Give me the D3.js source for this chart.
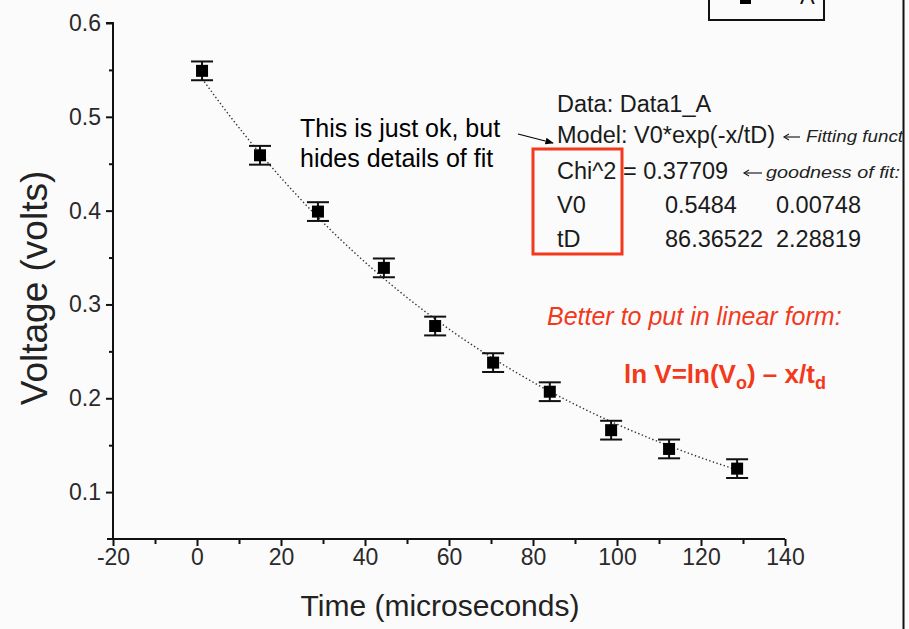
<!DOCTYPE html>
<html>
<head>
<meta charset="utf-8">
<script src="https://cdn.jsdelivr.net/npm/d3@7"></script>
<style>
  html, body { margin: 0; padding: 0; background: #fbfbfb; }
  svg { display: block; }
  text { font-family: "Liberation Sans", Arial, sans-serif; }
</style>
</head>
<body>
<svg id="chart" width="909" height="629"></svg>
<script>
// Measured decay: time (µs), voltage (V) and its uncertainty
const times    = [1.2, 15.0, 28.8, 44.5, 56.7, 70.5, 84.0, 98.6, 112.4, 128.6];
const voltages = [0.549, 0.459, 0.399, 0.339, 0.277, 0.238, 0.207, 0.166, 0.146, 0.125];
const errors   = [0.01, 0.01, 0.01, 0.01, 0.01, 0.01, 0.01, 0.01, 0.01, 0.01];

// Fitted model V0*exp(-x/tD)
const fitParams = { V0: 0.5484, tD: 86.36522 };
const fitRange  = [1.2, 128.6];

// Axis ticks
const xTicks = [-20, 0, 20, 40, 60, 80, 100, 120, 140];
const yTicks = [0.1, 0.2, 0.3, 0.4, 0.5, 0.6];

// Fit report lines
const fitRows = [
  ["V0", "0.5484", "0.00748"],
  ["tD", "86.36522", "2.28819"]
];

const svg = d3.select("#chart");

const x = d3.scaleLinear().domain([-20, 140]).range([113, 785]);
const y = d3.scaleLinear().domain([0.05, 0.6]).range([539, 23]);

const ink = "#111";

// Axes
const xAxis = d3.axisBottom(x).tickValues(xTicks).tickFormat(d => String(d)).tickSize(7).tickPadding(3);
const gx = svg.append("g").attr("transform", `translate(0,${y(0.05)})`).call(xAxis);
gx.select(".domain").attr("stroke", ink).attr("stroke-width", 2).attr("d", `M107,0H785`);
gx.selectAll(".tick line").attr("stroke", ink).attr("stroke-width", 2);
gx.selectAll(".tick text").attr("font-size", 23).attr("fill", "#2a2a2a");

const xMinor = d3.axisBottom(x).tickValues(d3.range(-10, 140, 20)).tickFormat("").tickSize(5);
const gxm = svg.append("g").attr("transform", `translate(0,${y(0.05)})`).call(xMinor);
gxm.select(".domain").remove();
gxm.selectAll(".tick line").attr("stroke", ink).attr("stroke-width", 2);

const yAxis = d3.axisLeft(y).tickValues(yTicks).tickFormat(d3.format(".1f")).tickSize(7).tickPadding(5);
const gy = svg.append("g").attr("transform", `translate(${x(-20)},0)`).call(yAxis);
gy.select(".domain").attr("stroke", ink).attr("stroke-width", 2).attr("d", `M-7,${y(0.6)}H0V${y(0.05)}`);
gy.selectAll(".tick line").attr("stroke", ink).attr("stroke-width", 2);
gy.selectAll(".tick text").attr("font-size", 23).attr("fill", "#2a2a2a");

const yMinor = d3.axisLeft(y).tickValues([0.15, 0.25, 0.35, 0.45, 0.55]).tickFormat("").tickSize(4);
const gym = svg.append("g").attr("transform", `translate(${x(-20)},0)`).call(yMinor);
gym.select(".domain").remove();
gym.selectAll(".tick line").attr("stroke", ink).attr("stroke-width", 2);

// Axis titles
svg.append("text").attr("x", 440).attr("y", 616).attr("text-anchor", "middle")
  .attr("font-size", 30).attr("fill", "#222").text("Time (microseconds)");
svg.append("text").attr("transform", "translate(47,288) rotate(-90)").attr("text-anchor", "middle")
  .attr("font-size", 37).attr("fill", "#222").text("Voltage (volts)");

// Fitted curve (dotted)
const fitX = d3.range(fitRange[0], fitRange[1] + 0.01, 0.5);
const fitLine = d3.line()
  .x(d => x(d))
  .y(d => y(fitParams.V0 * Math.exp(-d / fitParams.tD)));
svg.append("path").datum(fitX).attr("d", fitLine)
  .attr("fill", "none").attr("stroke", "#333").attr("stroke-width", 1.4)
  .attr("stroke-dasharray", "1.4,2.4");

// Error bars
const pts = times.map((t, i) => ({ t, v: voltages[i], e: errors[i] }));
const eb = svg.append("g").attr("stroke", ink).attr("stroke-width", 2);
eb.selectAll("line.stem").data(pts).join("line").attr("class", "stem")
  .attr("x1", d => x(d.t)).attr("x2", d => x(d.t))
  .attr("y1", d => y(d.v + d.e)).attr("y2", d => y(d.v - d.e));
eb.selectAll("line.top").data(pts).join("line").attr("class", "top")
  .attr("x1", d => x(d.t) - 11).attr("x2", d => x(d.t) + 11)
  .attr("y1", d => y(d.v + d.e)).attr("y2", d => y(d.v + d.e));
eb.selectAll("line.bot").data(pts).join("line").attr("class", "bot")
  .attr("x1", d => x(d.t) - 11).attr("x2", d => x(d.t) + 11)
  .attr("y1", d => y(d.v - d.e)).attr("y2", d => y(d.v - d.e));

// Square markers
svg.append("g").selectAll("rect").data(pts).join("rect")
  .attr("x", d => x(d.t) - 6).attr("y", d => y(d.v) - 6)
  .attr("width", 12).attr("height", 12).attr("fill", "#000");

// Legend box, running off the top of the page
const lg = svg.append("g");
lg.append("rect").attr("x", 709).attr("y", -30).attr("width", 115).attr("height", 50)
  .attr("fill", "none").attr("stroke", ink).attr("stroke-width", 2);
lg.append("rect").attr("x", 740).attr("y", -8).attr("width", 11).attr("height", 12).attr("fill", "#000");
lg.append("text").attr("x", 800).attr("y", 4).attr("font-size", 22).attr("fill", ink).text("A");

// Right edge of the page
svg.append("line").attr("x1", 903.5).attr("x2", 903.5).attr("y1", 0).attr("y2", 629)
  .attr("stroke", ink).attr("stroke-width", 2);

// Comment on the fit
svg.append("text").attr("x", 300).attr("y", 137).attr("font-size", 25).attr("fill", "#000")
  .text("This is just ok, but");
svg.append("text").attr("x", 300).attr("y", 167).attr("font-size", 25).attr("fill", "#000")
  .text("hides details of fit");

// Arrow to the model line
const defs = svg.append("defs");
defs.append("marker").attr("id", "ah").attr("viewBox", "0 0 10 10").attr("refX", 9).attr("refY", 5)
  .attr("markerWidth", 7).attr("markerHeight", 7).attr("orient", "auto")
  .append("path").attr("d", "M0,1L10,5L0,9z").attr("fill", "#000");
svg.append("line").attr("x1", 518).attr("y1", 134).attr("x2", 553).attr("y2", 143)
  .attr("stroke", "#000").attr("stroke-width", 1.2).attr("marker-end", "url(#ah)");

// Fit report
const rep = svg.append("g").attr("font-size", 23.5).attr("fill", "#1a1a1a");
rep.append("text").attr("x", 557).attr("y", 112).text("Data: Data1_A");
rep.append("text").attr("x", 557).attr("y", 143).text("Model: V0*exp(-x/tD)");
rep.append("text").attr("x", 557).attr("y", 179).text("Chi^2 = 0.37709");
fitRows.forEach((r, i) => {
  const yy = 213 + i * 34;
  rep.append("text").attr("x", 557).attr("y", yy).text(r[0]);
  rep.append("text").attr("x", 665).attr("y", yy).text(r[1]);
  rep.append("text").attr("x", 776).attr("y", yy).text(r[2]);
});

// Hand-written notes
const hand = svg.append("g").attr("fill", "#222").attr("font-size", 17)
  .attr("font-family", "'DejaVu Sans', sans-serif").attr("font-style", "italic");
function leftArrow(x0, yy, len) {
  svg.append("line").attr("x1", x0).attr("x2", x0 + len).attr("y1", yy).attr("y2", yy)
    .attr("stroke", "#222").attr("stroke-width", 1.2);
  svg.append("path").attr("d", `M${x0 + 5},${yy - 3}L${x0},${yy}L${x0 + 5},${yy + 3}`)
    .attr("fill", "none").attr("stroke", "#222").attr("stroke-width", 1.2);
}
leftArrow(784, 137, 16);
hand.append("text").attr("x", 806).attr("y", 142).attr("textLength", 97)
  .attr("lengthAdjust", "spacingAndGlyphs").text("Fitting funct");
leftArrow(744, 173, 18);
hand.append("text").attr("x", 766).attr("y", 178).attr("textLength", 134)
  .attr("lengthAdjust", "spacingAndGlyphs").text("goodness of fit:");

// Highlight box around parameter names
svg.append("rect").attr("x", 533).attr("y", 149).attr("width", 89).attr("height", 105)
  .attr("fill", "none").attr("stroke", "#f2391b").attr("stroke-width", 3);

// Red suggestion
svg.append("text").attr("x", 547).attr("y", 325).attr("font-size", 25).attr("font-style", "italic")
  .attr("fill", "#f2391b").text("Better to put in linear form:");
const eq = svg.append("text").attr("x", 624).attr("y", 383).attr("font-size", 26)
  .attr("font-weight", "bold").attr("fill", "#f2391b");
eq.append("tspan").text("ln V=ln(V");
eq.append("tspan").attr("font-size", 18).attr("dy", 6).text("o");
eq.append("tspan").attr("dy", -6).text(") \u2013 x/t");
eq.append("tspan").attr("font-size", 18).attr("dy", 6).text("d");
</script>
</body>
</html>
